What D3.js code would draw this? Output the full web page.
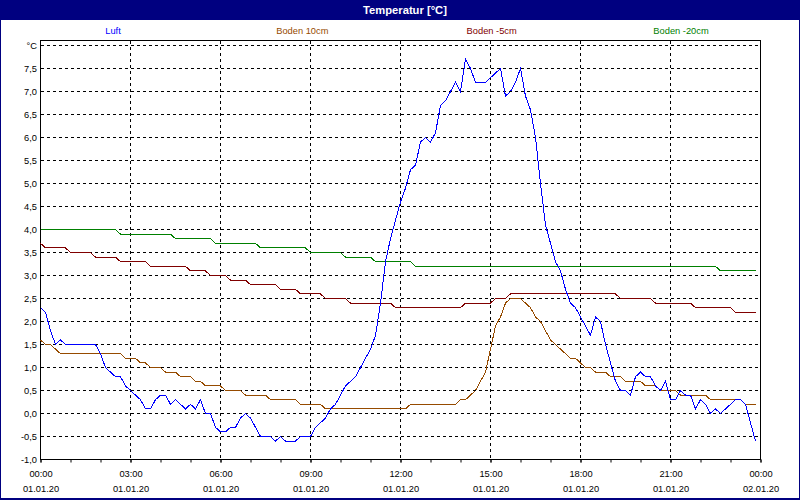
<!DOCTYPE html>
<html>
<head>
<meta charset="utf-8">
<script src="https://cdn.jsdelivr.net/npm/d3@7"></script>
<style>
  html, body { margin: 0; padding: 0; background: #fff; }
  svg { display: block; font-family: 'Liberation Sans', Arial, sans-serif; }
</style>
</head>
<body>
<div id="chart"></div>
<script>
// series (10 minute samples, 01.01.20 00:00 .. 23:50)
const seriesNames = ['Luft', 'Boden 10cm', 'Boden -5cm', 'Boden -20cm'];
const seriesColors = ['#0000ff', '#964b00', '#800000', '#008000'];

const luft = [
  2.3, 2.2, 1.8, 1.5, 1.6, 1.5, 1.5, 1.5, 1.5, 1.5, 1.5, 1.5,
  1.3, 1.0, 0.9, 0.8, 0.8, 0.6, 0.5, 0.4, 0.3, 0.1, 0.1, 0.3,
  0.4, 0.4, 0.2, 0.3, 0.2, 0.1, 0.2, 0.1, 0.3, 0.0, 0.0, -0.3,
  -0.4, -0.4, -0.3, -0.3, -0.1, 0.0, -0.1, -0.3, -0.5, -0.5, -0.5, -0.6,
  -0.5, -0.6, -0.6, -0.6, -0.5, -0.5, -0.5, -0.3, -0.2, -0.1, 0.1, 0.2,
  0.4, 0.6, 0.7, 0.8, 1.0, 1.2, 1.4, 1.7, 2.4, 3.3, 3.8, 4.2,
  4.6, 4.9, 5.3, 5.4, 5.9, 6.0, 5.9, 6.1, 6.7, 6.8, 7.0, 7.2,
  7.0, 7.7, 7.5, 7.2, 7.2, 7.2, 7.3, 7.4, 7.5, 6.9, 7.0, 7.2,
  7.5, 6.9, 6.6, 6.0, 5.0, 4.1, 3.7, 3.3, 3.1, 2.7, 2.4, 2.3,
  2.1, 1.9, 1.7, 2.1, 2.0, 1.5, 1.1, 0.7, 0.5, 0.5, 0.4, 0.8,
  0.9, 0.8, 0.8, 0.6, 0.5, 0.7, 0.3, 0.3, 0.5, 0.4, 0.4, 0.1,
  0.3, 0.2, 0.0, 0.1, 0.0, 0.1, 0.2, 0.3, 0.3, 0.2, -0.2, -0.6
];

const boden10 = [
  1.6, 1.5, 1.5, 1.4, 1.3, 1.3, 1.3, 1.3, 1.3, 1.3, 1.3, 1.3,
  1.3, 1.3, 1.3, 1.3, 1.3, 1.2, 1.2, 1.2, 1.1, 1.1, 1.0, 1.0,
  1.0, 0.9, 0.9, 0.9, 0.8, 0.8, 0.8, 0.7, 0.7, 0.6, 0.6, 0.6,
  0.6, 0.5, 0.5, 0.5, 0.5, 0.4, 0.4, 0.4, 0.4, 0.4, 0.3, 0.3,
  0.3, 0.3, 0.3, 0.3, 0.2, 0.2, 0.2, 0.2, 0.2, 0.1, 0.1, 0.1,
  0.1, 0.1, 0.1, 0.1, 0.1, 0.1, 0.1, 0.1, 0.1, 0.1, 0.1, 0.1,
  0.1, 0.1, 0.2, 0.2, 0.2, 0.2, 0.2, 0.2, 0.2, 0.2, 0.2, 0.2,
  0.3, 0.3, 0.4, 0.5, 0.7, 0.9, 1.4, 1.9, 2.1, 2.4, 2.5, 2.5,
  2.5, 2.4, 2.3, 2.1, 2.0, 1.8, 1.6, 1.5, 1.4, 1.3, 1.2, 1.2,
  1.1, 1.0, 1.0, 0.9, 0.9, 0.9, 0.8, 0.8, 0.8, 0.7, 0.7, 0.7,
  0.7, 0.6, 0.6, 0.6, 0.5, 0.5, 0.5, 0.5, 0.4, 0.4, 0.4, 0.4,
  0.4, 0.4, 0.3, 0.3, 0.3, 0.3, 0.3, 0.3, 0.3, 0.2, 0.2, 0.2
];

const boden5 = [
  3.7, 3.6, 3.6, 3.6, 3.6, 3.6, 3.5, 3.5, 3.5, 3.5, 3.5, 3.4,
  3.4, 3.4, 3.4, 3.4, 3.3, 3.3, 3.3, 3.3, 3.3, 3.3, 3.2, 3.2,
  3.2, 3.2, 3.2, 3.2, 3.2, 3.2, 3.1, 3.1, 3.1, 3.1, 3.0, 3.0,
  3.0, 3.0, 2.9, 2.9, 2.9, 2.9, 2.8, 2.8, 2.8, 2.8, 2.8, 2.8,
  2.7, 2.7, 2.7, 2.7, 2.6, 2.6, 2.6, 2.6, 2.6, 2.5, 2.5, 2.5,
  2.5, 2.5, 2.4, 2.4, 2.4, 2.4, 2.4, 2.4, 2.4, 2.4, 2.4, 2.3,
  2.3, 2.3, 2.3, 2.3, 2.3, 2.3, 2.3, 2.3, 2.3, 2.3, 2.3, 2.3,
  2.3, 2.4, 2.4, 2.4, 2.4, 2.4, 2.4, 2.5, 2.5, 2.5, 2.6, 2.6,
  2.6, 2.6, 2.6, 2.6, 2.6, 2.6, 2.6, 2.6, 2.6, 2.6, 2.6, 2.6,
  2.6, 2.6, 2.6, 2.6, 2.6, 2.6, 2.6, 2.6, 2.5, 2.5, 2.5, 2.5,
  2.5, 2.5, 2.5, 2.4, 2.4, 2.4, 2.4, 2.4, 2.4, 2.4, 2.4, 2.3,
  2.3, 2.3, 2.3, 2.3, 2.3, 2.3, 2.3, 2.2, 2.2, 2.2, 2.2, 2.2
];

const boden20 = [
  4.0, 4.0, 4.0, 4.0, 4.0, 4.0, 4.0, 4.0, 4.0, 4.0, 4.0, 4.0,
  4.0, 4.0, 4.0, 4.0, 3.9, 3.9, 3.9, 3.9, 3.9, 3.9, 3.9, 3.9,
  3.9, 3.9, 3.9, 3.8, 3.8, 3.8, 3.8, 3.8, 3.8, 3.8, 3.8, 3.7,
  3.7, 3.7, 3.7, 3.7, 3.7, 3.7, 3.7, 3.7, 3.6, 3.6, 3.6, 3.6,
  3.6, 3.6, 3.6, 3.6, 3.6, 3.6, 3.5, 3.5, 3.5, 3.5, 3.5, 3.5,
  3.5, 3.4, 3.4, 3.4, 3.4, 3.4, 3.4, 3.3, 3.3, 3.3, 3.3, 3.3,
  3.3, 3.3, 3.3, 3.2, 3.2, 3.2, 3.2, 3.2, 3.2, 3.2, 3.2, 3.2,
  3.2, 3.2, 3.2, 3.2, 3.2, 3.2, 3.2, 3.2, 3.2, 3.2, 3.2, 3.2,
  3.2, 3.2, 3.2, 3.2, 3.2, 3.2, 3.2, 3.2, 3.2, 3.2, 3.2, 3.2,
  3.2, 3.2, 3.2, 3.2, 3.2, 3.2, 3.2, 3.2, 3.2, 3.2, 3.2, 3.2,
  3.2, 3.2, 3.2, 3.2, 3.2, 3.2, 3.2, 3.2, 3.2, 3.2, 3.2, 3.2,
  3.2, 3.2, 3.2, 3.2, 3.1, 3.1, 3.1, 3.1, 3.1, 3.1, 3.1, 3.1
];

const yTicks = [-1, -0.5, 0, 0.5, 1, 1.5, 2, 2.5, 3, 3.5, 4, 4.5, 5, 5.5, 6, 6.5, 7, 7.5, 8];
const timeLabels = ['00:00', '03:00', '06:00', '09:00', '12:00', '15:00', '18:00', '21:00', '00:00'];
const dateLabels = ['01.01.20', '01.01.20', '01.01.20', '01.01.20', '01.01.20', '01.01.20', '01.01.20', '01.01.20', '02.01.20'];

const W = 800, H = 500;
const start = new Date(Date.UTC(2020, 0, 1));
const end = new Date(Date.UTC(2020, 0, 2));
const sampleTime = i => d3.utcMinute.offset(start, i * 10);

const x = d3.scaleUtc().domain([start, end]).range([40.5, 760.5]);
const y = d3.scaleLinear().domain([-1, 8]).range([459.5, 45.5]);
const de = d3.formatLocale({ decimal: ',', thousands: '.', grouping: [3], currency: ['', ' €'], minus: '-' });
const fmt = de.format('.1f');

const svg = d3.select('#chart').append('svg').attr('width', W).attr('height', H);

// window frame + title bar
svg.append('rect').attr('width', W).attr('height', H).attr('fill', '#000080');
svg.append('rect').attr('x', 1).attr('y', 20).attr('width', W - 2).attr('height', H - 22).attr('fill', '#fff');
svg.append('text').attr('x', 405).attr('y', 13.5).attr('text-anchor', 'middle')
  .attr('fill', '#fff').attr('font-weight', 'bold').attr('font-size', '11.2px').text('Temperatur [°C]');

// legend
const lx = d3.scalePoint().domain(seriesNames).range([113, 681]);
svg.append('g').selectAll('text').data(seriesNames).enter().append('text')
  .attr('x', d => lx(d)).attr('y', 34).attr('text-anchor', 'middle').attr('font-size', '9.3px')
  .attr('fill', (_, i) => seriesColors[i]).text(d => d);

// grid
const hourTicks = d3.utcHour.every(3).range(start, d3.utcMinute.offset(end, 1));
const grid = svg.append('g').attr('stroke', '#000').attr('stroke-dasharray', '3,3').attr('shape-rendering', 'crispEdges');
grid.selectAll('.hg').data(yTicks).enter().append('line')
  .attr('x1', 40.5).attr('x2', 760.5).attr('y1', d => y(d)).attr('y2', d => y(d));
grid.selectAll('.vg').data(hourTicks.slice(1, -1)).enter().append('line')
  .attr('y1', 40.5).attr('y2', 459.5).attr('x1', d => x(d)).attr('x2', d => x(d));

svg.append('rect').attr('x', 40.5).attr('y', 40.5).attr('width', 720).attr('height', 419)
  .attr('fill', 'none').attr('stroke', '#000').attr('shape-rendering', 'crispEdges');

// axes
const xMinor = svg.append('g').attr('transform', 'translate(0,459.5)')
  .call(d3.axisBottom(x).ticks(d3.utcHour.every(1)).tickSize(3).tickFormat(''));
xMinor.select('.domain').remove();

const xAxis = svg.append('g').attr('transform', 'translate(0,459.5)')
  .call(d3.axisBottom(x).tickValues(hourTicks).tickSize(3).tickFormat((_, i) => timeLabels[i]));
xAxis.select('.domain').remove();
xAxis.selectAll('text').attr('font-size', '9.3px').attr('font-family', null).attr('fill', '#000')
  .attr('y', 17.5).attr('dy', null)
  .each(function (_, i) {
    d3.select(this).append('tspan').attr('x', 0).attr('y', 32.5).text(dateLabels[i]);
  });

const yAxis = svg.append('g').attr('transform', 'translate(40.5,0)')
  .call(d3.axisLeft(y).tickValues(yTicks).tickSize(0).tickPadding(3.5)
    .tickFormat(d => d === 8 ? '°C' : fmt(d)));
yAxis.select('.domain').remove();
yAxis.selectAll('text').attr('font-size', '9.3px').attr('font-family', null).attr('fill', '#000');

// series
const line = d3.line().x((_, i) => x(sampleTime(i))).y(d => y(d));
const seriesData = [luft, boden10, boden5, boden20];
[3, 2, 1, 0].forEach(k => {
  svg.append('path').datum(seriesData[k]).attr('d', line)
    .attr('fill', 'none').attr('stroke', seriesColors[k]).attr('stroke-width', 1)
    .attr('shape-rendering', 'crispEdges');
});
</script>
</body>
</html>
